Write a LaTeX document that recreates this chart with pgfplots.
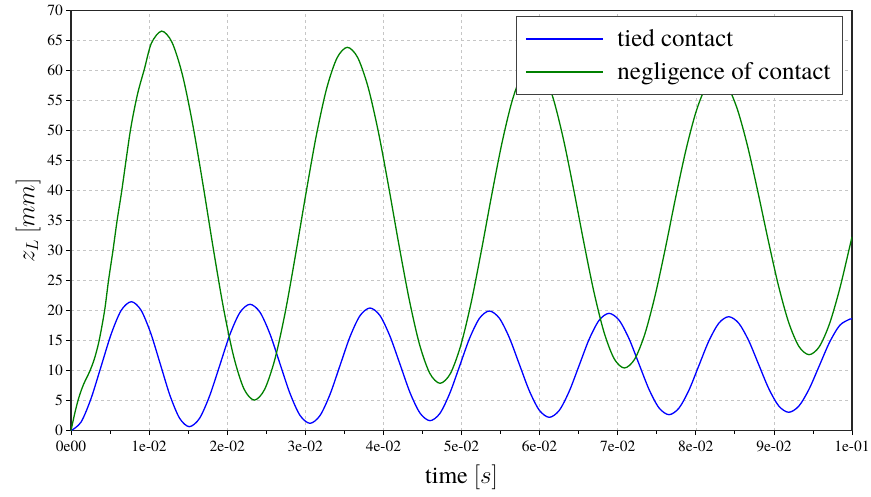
\documentclass[border=0pt]{standalone}
\usepackage{pgfplots}
\pgfplotsset{compat=1.18}
\usepackage{pgfplotstable}
\usepackage{fontspec}
\setmainfont{TeX Gyre Termes}
\definecolor{cblue}{RGB}{0,0,255}
\definecolor{cgreen}{RGB}{0,128,0}

\pgfplotstableread{
t v
0 0
0.00129 1.44
0.00257 5.38
0.00386 10.75
0.00515 16.13
0.00643 20.06
0.00772 21.5
0.00896 20.10
0.01020 16.29
0.01144 11.08
0.01267 5.88
0.01391 2.07
0.01515 0.67
0.01645 2.04
0.01774 5.77
0.01904 10.87
0.02033 15.97
0.02163 19.70
0.02292 21.07
0.02420 19.74
0.02548 16.11
0.02676 11.15
0.02804 6.19
0.02932 2.56
0.03060 1.23
0.03188 2.52
0.03316 6.04
0.03444 10.84
0.03572 15.65
0.03700 19.16
0.03828 20.45
0.03956 19.19
0.04084 15.75
0.04213 11.06
0.04341 6.36
0.04469 2.93
0.04597 1.67
0.04724 2.89
0.04850 6.24
0.04977 10.81
0.05103 15.38
0.05230 18.73
0.05356 19.95
0.05484 18.76
0.05612 15.52
0.05740 11.09
0.05868 6.66
0.05996 3.42
0.06124 2.23
0.06252 3.39
0.06379 6.56
0.06507 10.90
0.06634 15.23
0.06762 18.40
0.06889 19.56
0.07017 18.43
0.07145 15.34
0.07273 11.11
0.07401 6.89
0.07529 3.80
0.07657 2.67
0.07784 3.76
0.07912 6.75
0.08039 10.84
0.08166 14.92
0.08294 17.91
0.08421 19.00
0.08549 17.93
0.08677 15.02
0.08805 11.03
0.08933 7.05
0.09061 4.14
0.09189 3.07
0.09320 4.11
0.09451 6.95
0.09582 10.84
0.09712 14.72
0.09843 17.56
0.09974 18.60
0.10000 18.58
}\tied

\pgfplotstableread{
t v
0 0
0.00050 3.0
0.00100 5.5
0.0016 7.7
0.0024 9.9
0.0030 12.0
0.0036 15
0.0043 20
0.0048 25
0.00537 30
0.0059 35
0.0065 40
0.0076 50
0.0085 56
0.0094 60.3
0.0103 64.6
0.01161 66.6
0.01293 64.74
0.01425 59.40
0.01556 51.22
0.01688 41.19
0.01820 30.51
0.01952 20.47
0.02084 12.30
0.02215 6.96
0.02347 5.10
0.02479 6.88
0.02612 11.98
0.02744 19.80
0.02876 29.40
0.03009 39.60
0.03141 49.20
0.03273 57.02
0.03406 62.12
0.03538 63.90
0.03670 62.21
0.03802 57.35
0.03934 49.90
0.04066 40.76
0.04198 31.04
0.04330 21.90
0.04461 14.45
0.04593 9.59
0.04725 7.90
0.04857 9.51
0.04989 14.15
0.05122 21.25
0.05254 29.97
0.05386 39.23
0.05518 47.95
0.05650 55.05
0.05783 59.69
0.05915 61.30
0.06045 59.76
0.06175 55.35
0.06305 48.59
0.06435 40.29
0.06565 31.46
0.06695 23.16
0.06825 16.40
0.06955 11.99
0.07085 10.45
0.07217 11.92
0.07348 16.13
0.07480 22.59
0.07612 30.51
0.07743 38.94
0.07875 46.86
0.08007 53.32
0.08138 57.53
0.08270 59.00
0.08401 57.60
0.08532 53.58
0.08663 47.42
0.08794 39.86
0.08926 31.81
0.09057 24.25
0.09188 18.09
0.09319 14.07
0.09450 12.67
0.09581 14.00
0.09712 17.82
0.09843 23.67
0.09974 30.85
0.10000 32.30
}\negl

\begin{document}
\begin{tikzpicture}
\begin{axis}[
  width=781pt, height=420pt, scale only axis,
  xmin=0, xmax=0.1, ymin=0, ymax=70,
  xtick={0,0.01,0.02,0.03,0.04,0.05,0.06,0.07,0.08,0.09,0.1},
  xticklabels={0e00,1e-02,2e-02,3e-02,4e-02,5e-02,6e-02,7e-02,8e-02,9e-02,1e-01},
  minor xtick={0.005,0.015,0.025,0.035,0.045,0.055,0.065,0.075,0.085,0.095},
  ytick={0,5,10,15,20,25,30,35,40,45,50,55,60,65,70},
  xtick pos=bottom, ytick pos=left,
  tick align=outside,
  major tick length=4.5pt, minor tick length=2.8pt,
  every tick/.style={black, line width=0.8pt},
  scaled x ticks=false,
  /pgf/number format/assume math mode=true,
  tick label style={font=\rmfamily\fontsize{15.5}{18}\selectfont},
  xticklabel style={yshift=-2pt},
  grid=major,
  major grid style={gray!45, line width=0.6pt, dash pattern=on 3pt off 3pt},
  axis line style={black!85, line width=1.4pt},
  xlabel={$\mathrm{time}\ [s]$},
  ylabel={$z_L\ [mm]$},
  label style={font=\fontsize{24}{28}\selectfont},
  xlabel style={at={(axis description cs:0.5,-0.112)}, anchor=center},
  ylabel style={at={(axis description cs:-0.055,0.5)}, anchor=center, rotate=0},
  legend style={at={(rel axis cs:0.9885,0.987)}, anchor=north east,
    draw=black!75, line width=0.8pt, fill=white,
    font=\rmfamily\fontsize{25}{30}\selectfont,
    inner xsep=9pt, inner ysep=10pt,
    nodes={inner sep=3pt},
    column sep=11pt,
    row sep=8.5pt},
  legend cell align=left,
  legend image code/.code={\draw[#1] (0pt,0pt) -- (77pt,0pt);},
]
\addplot[cblue, line width=1.3pt, smooth] table[x=t,y=v] {\tied};
\addlegendentry{tied contact}
\addplot[cgreen, line width=1.3pt, smooth] table[x=t,y=v] {\negl};
\addlegendentry{negligence of contact}
\end{axis}
\pgfresetboundingbox
\path[use as bounding box] (current axis.south west) ++(-71pt,-65.3pt) rectangle ++(871pt,496pt);
\end{tikzpicture}
\end{document}
